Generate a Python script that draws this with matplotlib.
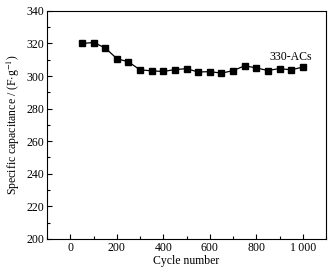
import matplotlib.pyplot as plt
from matplotlib.ticker import MultipleLocator, FuncFormatter

plt.rcParams['font.family'] = ['Liberation Serif', 'DejaVu Serif']
plt.rcParams['mathtext.fontset'] = 'stix'

# cycle number vs specific capacitance
cycles = [50, 100, 150, 200, 250, 300, 350, 400, 450, 500,
          550, 600, 650, 700, 750, 800, 850, 900, 950, 1000]
capacitance = [320.0, 320.6, 317.3, 310.7, 308.7, 303.8, 303.2, 302.8, 304.0, 304.5,
               302.5, 302.7, 301.8, 303.3, 306.3, 305.0, 303.4, 304.6, 303.8, 305.5]
series_label = '330-ACs'

fig = plt.figure(figsize=(3.34, 2.73), dpi=100)
ax = fig.add_axes([0.141, 0.125, 0.835, 0.835])

ax.plot(cycles, capacitance, color='black', lw=0.9, marker='s', ms=3.8)
ax.text(949, 311.5, series_label, fontsize=8.5, ha='center', va='center')

ax.set_xlim(-100, 1100)
ax.set_ylim(200, 340)
ax.xaxis.set_major_locator(MultipleLocator(200))
ax.xaxis.set_minor_locator(MultipleLocator(100))
ax.yaxis.set_major_locator(MultipleLocator(20))
ax.yaxis.set_minor_locator(MultipleLocator(10))
ax.xaxis.set_major_formatter(FuncFormatter(
    lambda v, p: '1\u2009000' if v == 1000 else f'{v:.0f}'))
ax.tick_params(which='both', direction='in', labelsize=8.5, width=0.8, pad=2)
ax.tick_params(which='major', length=3.5)
ax.tick_params(which='minor', length=2)
for s in ax.spines.values():
    s.set_linewidth(0.8)

ax.set_xlabel('Cycle number', fontsize=8.5, labelpad=1)
ax.set_ylabel('Specific capacitance / (F$\\cdot$g$^{-1}$)', fontsize=8.5, labelpad=3)

fig.savefig('out.png', dpi=100)
